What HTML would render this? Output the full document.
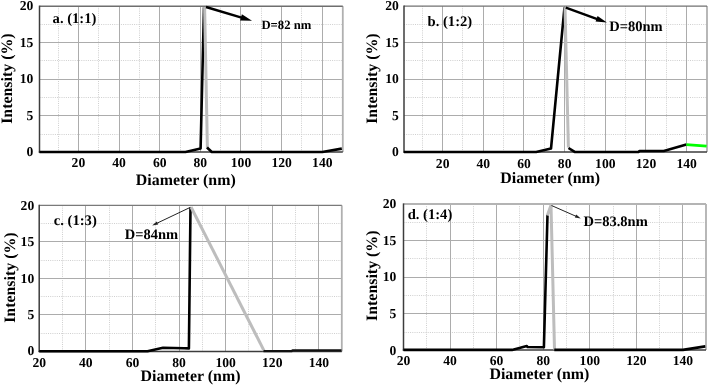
<!DOCTYPE html>
<html><head><meta charset="utf-8"><style>
html,body{margin:0;padding:0;background:#fff;}
body{width:708px;height:386px;overflow:hidden;}
svg{display:block;will-change:transform;}
text{font-family:"Liberation Serif", serif;font-weight:bold;fill:#000;text-rendering:geometricPrecision;}
</style></head><body>
<svg width="708" height="386" viewBox="0 0 708 386">

<g id="panel-a">
<line x1="58.5" y1="6.2" x2="58.5" y2="152" stroke="#cfcfcf" stroke-width="1.0" stroke-dasharray="1 1.2"/>
<line x1="98.5" y1="6.2" x2="98.5" y2="152" stroke="#cfcfcf" stroke-width="1.0" stroke-dasharray="1 1.2"/>
<line x1="139.5" y1="6.2" x2="139.5" y2="152" stroke="#cfcfcf" stroke-width="1.0" stroke-dasharray="1 1.2"/>
<line x1="180.5" y1="6.2" x2="180.5" y2="152" stroke="#cfcfcf" stroke-width="1.0" stroke-dasharray="1 1.2"/>
<line x1="220.5" y1="6.2" x2="220.5" y2="152" stroke="#cfcfcf" stroke-width="1.0" stroke-dasharray="1 1.2"/>
<line x1="261.5" y1="6.2" x2="261.5" y2="152" stroke="#cfcfcf" stroke-width="1.0" stroke-dasharray="1 1.2"/>
<line x1="301.5" y1="6.2" x2="301.5" y2="152" stroke="#cfcfcf" stroke-width="1.0" stroke-dasharray="1 1.2"/>
<line x1="39.5" y1="134.5" x2="342.8" y2="134.5" stroke="#cfcfcf" stroke-width="1.0" stroke-dasharray="1 1.2"/>
<line x1="39.5" y1="97.5" x2="342.8" y2="97.5" stroke="#cfcfcf" stroke-width="1.0" stroke-dasharray="1 1.2"/>
<line x1="39.5" y1="60.5" x2="342.8" y2="60.5" stroke="#cfcfcf" stroke-width="1.0" stroke-dasharray="1 1.2"/>
<line x1="39.5" y1="24.5" x2="342.8" y2="24.5" stroke="#cfcfcf" stroke-width="1.0" stroke-dasharray="1 1.2"/>
<line x1="78.5" y1="6.2" x2="78.5" y2="152" stroke="#acacac" stroke-width="1.0"/>
<line x1="119.5" y1="6.2" x2="119.5" y2="152" stroke="#acacac" stroke-width="1.0"/>
<line x1="159.5" y1="6.2" x2="159.5" y2="152" stroke="#acacac" stroke-width="1.0"/>
<line x1="200.5" y1="6.2" x2="200.5" y2="152" stroke="#acacac" stroke-width="1.0"/>
<line x1="240.5" y1="6.2" x2="240.5" y2="152" stroke="#acacac" stroke-width="1.0"/>
<line x1="281.5" y1="6.2" x2="281.5" y2="152" stroke="#acacac" stroke-width="1.0"/>
<line x1="322.5" y1="6.2" x2="322.5" y2="152" stroke="#acacac" stroke-width="1.0"/>
<line x1="39.5" y1="115.5" x2="342.8" y2="115.5" stroke="#acacac" stroke-width="1.0"/>
<line x1="39.5" y1="79.5" x2="342.8" y2="79.5" stroke="#acacac" stroke-width="1.0"/>
<line x1="39.5" y1="42.5" x2="342.8" y2="42.5" stroke="#acacac" stroke-width="1.0"/>
<line x1="342.8" y1="6.2" x2="342.8" y2="152" stroke="#b0b0b0" stroke-width="1.8"/>
<line x1="39.5" y1="6.2" x2="342.8" y2="6.2" stroke="#6e6e6e" stroke-width="1.4"/>
<line x1="39.5" y1="5.6" x2="39.5" y2="152.7" stroke="#3c3c3c" stroke-width="1.5"/>
<line x1="38.8" y1="152" x2="342.8" y2="152" stroke="#3c3c3c" stroke-width="1.5"/>
<polyline points="39.5,151.95 185.5,151.95 200.6,148.4 204,7.2" fill="none" stroke="#000" stroke-width="2.6" stroke-linejoin="round" stroke-linecap="butt"/>
<polyline points="204.6,7 207.4,148.5" fill="none" stroke="#bdbdbd" stroke-width="3.0" stroke-linejoin="round" stroke-linecap="butt"/>
<polyline points="207,147.5 211.8,151.95 322.3,151.95 341.8,148.6" fill="none" stroke="#000" stroke-width="2.6" stroke-linejoin="round" stroke-linecap="butt"/>
<line x1="206" y1="7" x2="243.18" y2="18.07" stroke="#000" stroke-width="2.4"/><polygon points="252,20.7 240.07,20.48 241.89,14.35" fill="#000"/>
<g font-size="13.6"><text x="33.3" y="156.15" text-anchor="end">0</text><text x="33.3" y="119.69" text-anchor="end">5</text><text x="33.3" y="83.22" text-anchor="end">10</text><text x="33.3" y="46.76" text-anchor="end">15</text><text x="33.3" y="10.3" text-anchor="end">20</text><text x="78.4" y="166.9" text-anchor="middle">20</text><text x="119.04" y="166.9" text-anchor="middle">40</text><text x="159.69" y="166.9" text-anchor="middle">60</text><text x="200.34" y="166.9" text-anchor="middle">80</text><text x="240.99" y="166.9" text-anchor="middle">100</text><text x="281.64" y="166.9" text-anchor="middle">120</text><text x="322.29" y="166.9" text-anchor="middle">140</text></g>
<text x="185.8" y="185.2" text-anchor="middle" font-size="15.9">Diameter (nm)</text>
<text transform="translate(11.9,78.6) rotate(-90)" text-anchor="middle" font-size="15.9">Intensity (%)</text>
<text x="52.6" y="22.6" font-size="14.6" xml:space="preserve">a. (1:1)</text>
<text x="261.4" y="28.5" font-size="12.7">D=82 nm</text>
</g>
<g id="panel-b">
<line x1="422.5" y1="6.1" x2="422.5" y2="152" stroke="#cfcfcf" stroke-width="1.0" stroke-dasharray="1 1.2"/>
<line x1="462.5" y1="6.1" x2="462.5" y2="152" stroke="#cfcfcf" stroke-width="1.0" stroke-dasharray="1 1.2"/>
<line x1="503.5" y1="6.1" x2="503.5" y2="152" stroke="#cfcfcf" stroke-width="1.0" stroke-dasharray="1 1.2"/>
<line x1="544.5" y1="6.1" x2="544.5" y2="152" stroke="#cfcfcf" stroke-width="1.0" stroke-dasharray="1 1.2"/>
<line x1="584.5" y1="6.1" x2="584.5" y2="152" stroke="#cfcfcf" stroke-width="1.0" stroke-dasharray="1 1.2"/>
<line x1="625.5" y1="6.1" x2="625.5" y2="152" stroke="#cfcfcf" stroke-width="1.0" stroke-dasharray="1 1.2"/>
<line x1="666.5" y1="6.1" x2="666.5" y2="152" stroke="#cfcfcf" stroke-width="1.0" stroke-dasharray="1 1.2"/>
<line x1="404" y1="134.5" x2="707" y2="134.5" stroke="#cfcfcf" stroke-width="1.0" stroke-dasharray="1 1.2"/>
<line x1="404" y1="97.5" x2="707" y2="97.5" stroke="#cfcfcf" stroke-width="1.0" stroke-dasharray="1 1.2"/>
<line x1="404" y1="60.5" x2="707" y2="60.5" stroke="#cfcfcf" stroke-width="1.0" stroke-dasharray="1 1.2"/>
<line x1="404" y1="24.5" x2="707" y2="24.5" stroke="#cfcfcf" stroke-width="1.0" stroke-dasharray="1 1.2"/>
<line x1="442.5" y1="6.1" x2="442.5" y2="152" stroke="#acacac" stroke-width="1.0"/>
<line x1="483.5" y1="6.1" x2="483.5" y2="152" stroke="#acacac" stroke-width="1.0"/>
<line x1="523.5" y1="6.1" x2="523.5" y2="152" stroke="#acacac" stroke-width="1.0"/>
<line x1="564.5" y1="6.1" x2="564.5" y2="152" stroke="#acacac" stroke-width="1.0"/>
<line x1="605.5" y1="6.1" x2="605.5" y2="152" stroke="#acacac" stroke-width="1.0"/>
<line x1="645.5" y1="6.1" x2="645.5" y2="152" stroke="#acacac" stroke-width="1.0"/>
<line x1="686.5" y1="6.1" x2="686.5" y2="152" stroke="#acacac" stroke-width="1.0"/>
<line x1="404" y1="115.5" x2="707" y2="115.5" stroke="#acacac" stroke-width="1.0"/>
<line x1="404" y1="79.5" x2="707" y2="79.5" stroke="#acacac" stroke-width="1.0"/>
<line x1="404" y1="42.5" x2="707" y2="42.5" stroke="#acacac" stroke-width="1.0"/>
<line x1="707" y1="6.1" x2="707" y2="152" stroke="#b0b0b0" stroke-width="1.8"/>
<line x1="404" y1="6.1" x2="707" y2="6.1" stroke="#707070" stroke-width="1.4"/>
<line x1="404" y1="5.5" x2="404" y2="152.7" stroke="#3c3c3c" stroke-width="1.5"/>
<line x1="403.3" y1="152" x2="707" y2="152" stroke="#3c3c3c" stroke-width="1.5"/>
<polyline points="404,151.95 536.2,151.95 551,148.6 564.5,7.4" fill="none" stroke="#000" stroke-width="2.6" stroke-linejoin="round" stroke-linecap="butt"/>
<polyline points="565,7.2 568.4,147.5" fill="none" stroke="#bdbdbd" stroke-width="3.0" stroke-linejoin="round" stroke-linecap="butt"/>
<polyline points="568.5,148 574.7,151.95 638.4,151.95 639.5,151 663.8,151 686.4,144.5" fill="none" stroke="#000" stroke-width="2.6" stroke-linejoin="round" stroke-linecap="butt"/>
<polyline points="686.4,144.6 706.6,146.1" fill="none" stroke="#00ff00" stroke-width="2.9" stroke-linejoin="round" stroke-linecap="butt"/>
<line x1="565.8" y1="7.6" x2="598.63" y2="19.58" stroke="#000" stroke-width="2.4"/><polygon points="606.9,22.6 595.57,21.55 597.56,16.1" fill="#000"/>
<g font-size="13.6"><text x="398.9" y="156.15" text-anchor="end">0</text><text x="398.9" y="119.69" text-anchor="end">5</text><text x="398.9" y="83.22" text-anchor="end">10</text><text x="398.9" y="46.76" text-anchor="end">15</text><text x="398.9" y="10.3" text-anchor="end">20</text><text x="442.65" y="167.6" text-anchor="middle">20</text><text x="483.32" y="167.6" text-anchor="middle">40</text><text x="523.99" y="167.6" text-anchor="middle">60</text><text x="564.66" y="167.6" text-anchor="middle">80</text><text x="605.32" y="167.6" text-anchor="middle">100</text><text x="645.99" y="167.6" text-anchor="middle">120</text><text x="686.66" y="167.6" text-anchor="middle">140</text></g>
<text x="550.2" y="183.4" text-anchor="middle" font-size="15.9">Diameter (nm)</text>
<text transform="translate(376.9,78.6) rotate(-90)" text-anchor="middle" font-size="15.9">Intensity (%)</text>
<text x="427.6" y="25.8" font-size="14.6" xml:space="preserve">b. (1:2)</text>
<text x="609.2" y="30.7" font-size="14.5">D=80nm</text>
</g>
<g id="panel-c">
<line x1="62.5" y1="205.4" x2="62.5" y2="351.4" stroke="#cfcfcf" stroke-width="1.0" stroke-dasharray="1 1.2"/>
<line x1="109.5" y1="205.4" x2="109.5" y2="351.4" stroke="#cfcfcf" stroke-width="1.0" stroke-dasharray="1 1.2"/>
<line x1="155.5" y1="205.4" x2="155.5" y2="351.4" stroke="#cfcfcf" stroke-width="1.0" stroke-dasharray="1 1.2"/>
<line x1="202.5" y1="205.4" x2="202.5" y2="351.4" stroke="#cfcfcf" stroke-width="1.0" stroke-dasharray="1 1.2"/>
<line x1="248.5" y1="205.4" x2="248.5" y2="351.4" stroke="#cfcfcf" stroke-width="1.0" stroke-dasharray="1 1.2"/>
<line x1="295.5" y1="205.4" x2="295.5" y2="351.4" stroke="#cfcfcf" stroke-width="1.0" stroke-dasharray="1 1.2"/>
<line x1="39.2" y1="333.5" x2="341.8" y2="333.5" stroke="#cfcfcf" stroke-width="1.0" stroke-dasharray="1 1.2"/>
<line x1="39.2" y1="296.5" x2="341.8" y2="296.5" stroke="#cfcfcf" stroke-width="1.0" stroke-dasharray="1 1.2"/>
<line x1="39.2" y1="260.5" x2="341.8" y2="260.5" stroke="#cfcfcf" stroke-width="1.0" stroke-dasharray="1 1.2"/>
<line x1="39.2" y1="223.5" x2="341.8" y2="223.5" stroke="#cfcfcf" stroke-width="1.0" stroke-dasharray="1 1.2"/>
<line x1="85.5" y1="205.4" x2="85.5" y2="351.4" stroke="#acacac" stroke-width="1.0"/>
<line x1="132.5" y1="205.4" x2="132.5" y2="351.4" stroke="#acacac" stroke-width="1.0"/>
<line x1="179.5" y1="205.4" x2="179.5" y2="351.4" stroke="#acacac" stroke-width="1.0"/>
<line x1="225.5" y1="205.4" x2="225.5" y2="351.4" stroke="#acacac" stroke-width="1.0"/>
<line x1="272.5" y1="205.4" x2="272.5" y2="351.4" stroke="#acacac" stroke-width="1.0"/>
<line x1="318.5" y1="205.4" x2="318.5" y2="351.4" stroke="#acacac" stroke-width="1.0"/>
<line x1="39.2" y1="314.5" x2="341.8" y2="314.5" stroke="#acacac" stroke-width="1.0"/>
<line x1="39.2" y1="278.5" x2="341.8" y2="278.5" stroke="#acacac" stroke-width="1.0"/>
<line x1="39.2" y1="241.5" x2="341.8" y2="241.5" stroke="#acacac" stroke-width="1.0"/>
<line x1="341.8" y1="205.4" x2="341.8" y2="351.4" stroke="#b0b0b0" stroke-width="1.8"/>
<line x1="39.2" y1="205.4" x2="341.8" y2="205.4" stroke="#7a7a7a" stroke-width="1.4"/>
<line x1="39.2" y1="204.8" x2="39.2" y2="352.1" stroke="#3c3c3c" stroke-width="1.5"/>
<line x1="38.5" y1="351.4" x2="341.8" y2="351.4" stroke="#3c3c3c" stroke-width="1.5"/>
<polyline points="39.2,351.2 147.5,351.2 163,347.8 184.2,348.2 188.9,348.4 190.5,207.6" fill="none" stroke="#000" stroke-width="2.6" stroke-linejoin="round" stroke-linecap="butt"/>
<polyline points="191,207 264,350.6" fill="none" stroke="#bdbdbd" stroke-width="3.0" stroke-linejoin="round" stroke-linecap="butt"/>
<polyline points="263.5,351.1 291.7,351.1 292.5,350.4 341.5,350.4" fill="none" stroke="#111" stroke-width="2.1" stroke-linejoin="round" stroke-linecap="butt"/>
<line x1="190.4" y1="207.3" x2="156.39" y2="223.5" stroke="#222" stroke-width="1.0"/><polygon points="152.2,225.5 156.7,221.47 158.17,224.54" fill="#222"/>
<g font-size="13.6"><text x="34.2" y="355.45" text-anchor="end">0</text><text x="34.2" y="318.99" text-anchor="end">5</text><text x="34.2" y="282.53" text-anchor="end">10</text><text x="34.2" y="246.06" text-anchor="end">15</text><text x="34.2" y="209.6" text-anchor="end">20</text><text x="39.24" y="366.6" text-anchor="middle">20</text><text x="85.85" y="366.6" text-anchor="middle">40</text><text x="132.45" y="366.6" text-anchor="middle">60</text><text x="179.06" y="366.6" text-anchor="middle">80</text><text x="225.66" y="366.6" text-anchor="middle">100</text><text x="272.27" y="366.6" text-anchor="middle">120</text><text x="318.88" y="366.6" text-anchor="middle">140</text></g>
<text x="190.5" y="381.3" text-anchor="middle" font-size="15.9">Diameter (nm)</text>
<text transform="translate(15.2,277.6) rotate(-90)" text-anchor="middle" font-size="15.9">Intensity (%)</text>
<text x="53.8" y="225.2" font-size="14.6" xml:space="preserve">c. (1:3)</text>
<text x="124.7" y="239.2" font-size="14.5">D=84nm</text>
</g>
<g id="panel-d">
<line x1="426.5" y1="204" x2="426.5" y2="350" stroke="#cfcfcf" stroke-width="1.0" stroke-dasharray="1 1.2"/>
<line x1="473.5" y1="204" x2="473.5" y2="350" stroke="#cfcfcf" stroke-width="1.0" stroke-dasharray="1 1.2"/>
<line x1="519.5" y1="204" x2="519.5" y2="350" stroke="#cfcfcf" stroke-width="1.0" stroke-dasharray="1 1.2"/>
<line x1="566.5" y1="204" x2="566.5" y2="350" stroke="#cfcfcf" stroke-width="1.0" stroke-dasharray="1 1.2"/>
<line x1="613.5" y1="204" x2="613.5" y2="350" stroke="#cfcfcf" stroke-width="1.0" stroke-dasharray="1 1.2"/>
<line x1="659.5" y1="204" x2="659.5" y2="350" stroke="#cfcfcf" stroke-width="1.0" stroke-dasharray="1 1.2"/>
<line x1="403.5" y1="332.5" x2="706" y2="332.5" stroke="#cfcfcf" stroke-width="1.0" stroke-dasharray="1 1.2"/>
<line x1="403.5" y1="295.5" x2="706" y2="295.5" stroke="#cfcfcf" stroke-width="1.0" stroke-dasharray="1 1.2"/>
<line x1="403.5" y1="258.5" x2="706" y2="258.5" stroke="#cfcfcf" stroke-width="1.0" stroke-dasharray="1 1.2"/>
<line x1="403.5" y1="222.5" x2="706" y2="222.5" stroke="#cfcfcf" stroke-width="1.0" stroke-dasharray="1 1.2"/>
<line x1="450.5" y1="204" x2="450.5" y2="350" stroke="#acacac" stroke-width="1.0"/>
<line x1="496.5" y1="204" x2="496.5" y2="350" stroke="#acacac" stroke-width="1.0"/>
<line x1="543.5" y1="204" x2="543.5" y2="350" stroke="#acacac" stroke-width="1.0"/>
<line x1="589.5" y1="204" x2="589.5" y2="350" stroke="#acacac" stroke-width="1.0"/>
<line x1="636.5" y1="204" x2="636.5" y2="350" stroke="#acacac" stroke-width="1.0"/>
<line x1="682.5" y1="204" x2="682.5" y2="350" stroke="#acacac" stroke-width="1.0"/>
<line x1="403.5" y1="313.5" x2="706" y2="313.5" stroke="#acacac" stroke-width="1.0"/>
<line x1="403.5" y1="277.5" x2="706" y2="277.5" stroke="#acacac" stroke-width="1.0"/>
<line x1="403.5" y1="240.5" x2="706" y2="240.5" stroke="#acacac" stroke-width="1.0"/>
<line x1="706" y1="204" x2="706" y2="350" stroke="#b0b0b0" stroke-width="1.8"/>
<line x1="403.5" y1="204" x2="706" y2="204" stroke="#b4b4b4" stroke-width="1.8"/>
<line x1="403.5" y1="203.4" x2="403.5" y2="350.7" stroke="#3c3c3c" stroke-width="1.5"/>
<line x1="402.8" y1="350" x2="706" y2="350" stroke="#3c3c3c" stroke-width="1.5"/>
<polyline points="403.5,349.9 512,349.9 526.8,346 527.5,347 543.9,347.2 547.5,214.8" fill="none" stroke="#000" stroke-width="2.6" stroke-linejoin="round" stroke-linecap="butt"/>
<polyline points="547.3,215.5 551,205.2 554.5,349.5" fill="none" stroke="#bdbdbd" stroke-width="3.0" stroke-linejoin="round" stroke-linecap="butt"/>
<polyline points="554.3,349.9 683,349.9 705.3,346.4" fill="none" stroke="#000" stroke-width="2.6" stroke-linejoin="round" stroke-linecap="butt"/>
<line x1="551.5" y1="205.5" x2="576.55" y2="216.53" stroke="#222" stroke-width="1.0"/><polygon points="580.8,218.4 574.81,217.62 576.18,214.51" fill="#222"/>
<g font-size="13.6"><text x="396.3" y="354.5" text-anchor="end">0</text><text x="396.3" y="317.95" text-anchor="end">5</text><text x="396.3" y="281.4" text-anchor="end">10</text><text x="396.3" y="244.85" text-anchor="end">15</text><text x="396.3" y="208.3" text-anchor="end">20</text><text x="403.45" y="364.8" text-anchor="middle">20</text><text x="450.03" y="364.8" text-anchor="middle">40</text><text x="496.62" y="364.8" text-anchor="middle">60</text><text x="543.2" y="364.8" text-anchor="middle">80</text><text x="589.79" y="364.8" text-anchor="middle">100</text><text x="636.37" y="364.8" text-anchor="middle">120</text><text x="682.96" y="364.8" text-anchor="middle">140</text></g>
<text x="539.4" y="378.8" text-anchor="middle" font-size="15.9">Diameter (nm)</text>
<text transform="translate(376.8,275.7) rotate(-90)" text-anchor="middle" font-size="15.9">Intensity (%)</text>
<text x="407.7" y="218.5" font-size="14.6" xml:space="preserve">d. (1:4)</text>
<text x="583.5" y="225.9" font-size="14.5">D=83.8nm</text>
</g>
</svg>
</body></html>
